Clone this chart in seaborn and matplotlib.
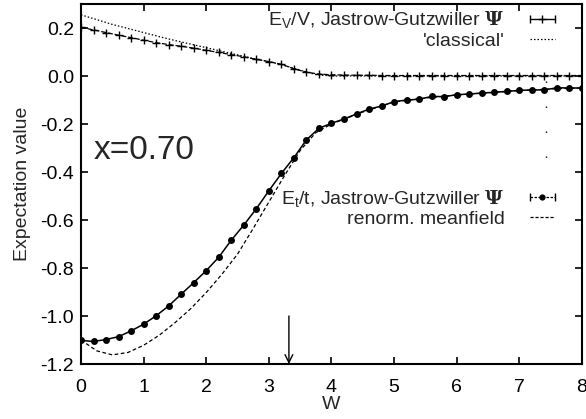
import matplotlib
matplotlib.use("Agg")
import matplotlib.pyplot as plt
import seaborn as sns
import pandas as pd
from matplotlib.lines import Line2D
from matplotlib.legend_handler import HandlerLine2D, HandlerTuple

# ---------------- data ----------------
w_points = [0.0, 0.2, 0.4, 0.6, 0.8, 1.0, 1.2, 1.4, 1.6, 1.8,
            2.0, 2.2, 2.4, 2.6, 2.8, 3.0, 3.2, 3.4, 3.6, 3.8,
            4.0, 4.2, 4.4, 4.6, 4.8, 5.0, 5.2, 5.4, 5.6, 5.8,
            6.0, 6.2, 6.4, 6.6, 6.8, 7.0, 7.2, 7.4, 7.6, 7.8, 8.0]

ev_jastrow = [0.203, 0.192, 0.181, 0.170, 0.160, 0.149, 0.139, 0.131, 0.124, 0.116,
              0.107, 0.098, 0.089, 0.080, 0.069, 0.060, 0.049, 0.030, 0.016, 0.008,
              0.005, 0.004, 0.003, 0.003, 0.002, 0.002, 0.002, 0.002, 0.002, 0.002,
              0.002, 0.002, 0.002, 0.002, 0.002, 0.002, 0.002, 0.002, 0.002, 0.002, 0.002]

et_jastrow = [-1.102, -1.106, -1.098, -1.086, -1.062, -1.034, -0.999, -0.958, -0.909, -0.861,
              -0.811, -0.755, -0.684, -0.621, -0.553, -0.478, -0.406, -0.340, -0.266, -0.218,
              -0.197, -0.179, -0.158, -0.138, -0.125, -0.107, -0.100, -0.097, -0.085, -0.086,
              -0.078, -0.075, -0.071, -0.068, -0.064, -0.060, -0.058, -0.058, -0.049, -0.050, -0.050]

w_classical = [0.0, 0.25, 0.5, 0.75, 1.0, 1.25, 1.5, 1.75, 2.0, 2.25, 2.5, 2.75,
               3.0, 3.25, 3.5, 3.75, 4.0, 8.0]
ev_classical = [0.255, 0.235, 0.215, 0.198, 0.181, 0.164, 0.148, 0.133, 0.118, 0.103, 0.088, 0.073,
                0.060, 0.044, 0.024, 0.006, 0.0, 0.0]

w_meanfield = [0.0, 0.25, 0.5, 0.75, 1.0, 1.25, 1.5, 1.75, 2.0, 2.25, 2.5, 2.75,
               3.0, 3.25, 3.5, 3.75, 4.0, 4.5, 5.0, 5.5, 6.0, 6.5, 7.0, 7.5, 8.0]
et_meanfield = [-1.100, -1.145, -1.162, -1.152, -1.122, -1.080, -1.028, -0.970, -0.902, -0.826,
                -0.742, -0.635, -0.525, -0.415, -0.310, -0.236, -0.200, -0.150, -0.108, -0.092,
                -0.079, -0.070, -0.061, -0.054, -0.050]

arrow_w = 3.32
arrow_from = -1.0
arrow_to = -1.2

dots_w = 7.42
dots_range = [-0.02, -0.40]

x_ticks = [0, 1, 2, 3, 4, 5, 6, 7, 8]
y_ticks = [-1.2, -1.0, -0.8, -0.6, -0.4, -0.2, 0.0, 0.2]

label_ev = r"E$_\mathrm{V}$/V, Jastrow-Gutzwiller $\mathbf{\Psi}$"
label_cl = "'classical'"
label_et = r"E$_\mathrm{t}$/t, Jastrow-Gutzwiller $\mathbf{\Psi}$"
label_mf = "renorm. meanfield"

# ---------------- style ----------------
sns.set_theme(style="ticks")
plt.rcParams["font.family"] = ["Liberation Sans", "DejaVu Sans"]
plt.rcParams["mathtext.fontset"] = "custom"
plt.rcParams["mathtext.rm"] = "Liberation Sans"
plt.rcParams["mathtext.it"] = "Liberation Sans:italic"
plt.rcParams["mathtext.bf"] = "DejaVu Serif:bold"
plt.rcParams["axes.unicode_minus"] = False

fig = plt.figure(figsize=(5.86, 4.19), dpi=100)
ax = fig.add_axes([81 / 586, 1 - 364 / 419, 501 / 586, 360 / 419])

df_pts = pd.DataFrame({"W": w_points, "EV": ev_jastrow, "Et": et_jastrow})
df_cl = pd.DataFrame({"W": w_classical, "EV": ev_classical})
df_mf = pd.DataFrame({"W": w_meanfield, "Et": et_meanfield})

sns.lineplot(data=df_cl, x="W", y="EV", ax=ax, color="black", lw=0.9,
             linestyle=(0, (1.2, 1.6)), estimator=None, sort=False)
sns.lineplot(data=df_pts, x="W", y="EV", ax=ax, color="black", lw=0.9,
             linestyle=(0, (4, 1.5)), marker="+", markersize=5.5, markeredgewidth=1.0,
             markeredgecolor="black", estimator=None, sort=False)
sns.lineplot(data=df_mf, x="W", y="Et", ax=ax, color="black", lw=0.9,
             linestyle=(0, (3, 2)), estimator=None, sort=False)
sns.lineplot(data=df_pts, x="W", y="Et", ax=ax, color="black", lw=1.1,
             marker="o", markersize=5, markeredgewidth=0, estimator=None, sort=False)

# arrow and sparse dots
ax.annotate("", xy=(arrow_w, arrow_to), xytext=(arrow_w, arrow_from),
            arrowprops=dict(arrowstyle="->", color="black", lw=1.0,
                            shrinkA=0, shrinkB=0, mutation_scale=14))
ax.plot([dots_w, dots_w], dots_range, color="black", lw=1.0,
        linestyle=(0, (1, 17)))

ax.text(0.2, -0.31, "x=0.70", fontsize=24, ha="left", va="center")

ax.set_xlim(0, 8)
ax.set_ylim(-1.2, 0.3)
ax.set_xticks(x_ticks)
ax.set_xticklabels([str(t) for t in x_ticks])
ax.set_yticks(y_ticks)
ax.set_yticklabels(["%.1f" % t for t in y_ticks])
ax.tick_params(axis="both", direction="in", top=True, right=True, length=5,
               width=1.2, labelsize=14, color="black", labelcolor="black")
ax.tick_params(axis="x", pad=11)
ax.tick_params(axis="y", pad=5)
for s in ax.spines.values():
    s.set_linewidth(1.5)
    s.set_color("black")
ax.set_xlabel("W", fontsize=14, labelpad=0)
ax.set_ylabel("Expectation value", fontsize=14, labelpad=7)

# ---------------- legends ----------------
ev_line = Line2D([], [], color="black", lw=1.0, marker="|", markersize=6)
ev_mid = Line2D([], [], color="black", ls="none", marker="+", markersize=6)
cl_line = Line2D([], [], color="black", lw=0.9, linestyle=(0, (1.2, 1.6)))
et_line = Line2D([], [], color="black", lw=0.9, linestyle=(0, (2, 1.2)), marker="|", markersize=6)
et_mid = Line2D([], [], color="black", ls="none", marker="o", markersize=4.5, markeredgewidth=0)
mf_line = Line2D([], [], color="black", lw=0.9, linestyle=(0, (2.5, 1.5)))

hmap = {ev_line: HandlerLine2D(numpoints=2), ev_mid: HandlerLine2D(numpoints=1),
        et_line: HandlerLine2D(numpoints=2), et_mid: HandlerLine2D(numpoints=1),
        cl_line: HandlerLine2D(numpoints=2), mf_line: HandlerLine2D(numpoints=2),
        tuple: HandlerTuple(ndivide=1)}

leg1 = ax.legend([(ev_line, ev_mid), cl_line], [label_ev, label_cl],
                 loc="upper right", bbox_to_anchor=(0.958, 0.985), frameon=False,
                 markerfirst=False, fontsize=14, handlelength=1.9, handletextpad=1.0,
                 labelspacing=0.1, borderpad=0, borderaxespad=0, handler_map=hmap)
ax.add_artist(leg1)
ax.legend([(et_line, et_mid), mf_line], [label_et, label_mf],
          loc="upper right", bbox_to_anchor=(0.958, 0.49), frameon=False,
          markerfirst=False, fontsize=14, handlelength=1.9, handletextpad=1.0,
          labelspacing=0.1, borderpad=0, borderaxespad=0, handler_map=hmap)

fig.savefig("out.png", dpi=100)
